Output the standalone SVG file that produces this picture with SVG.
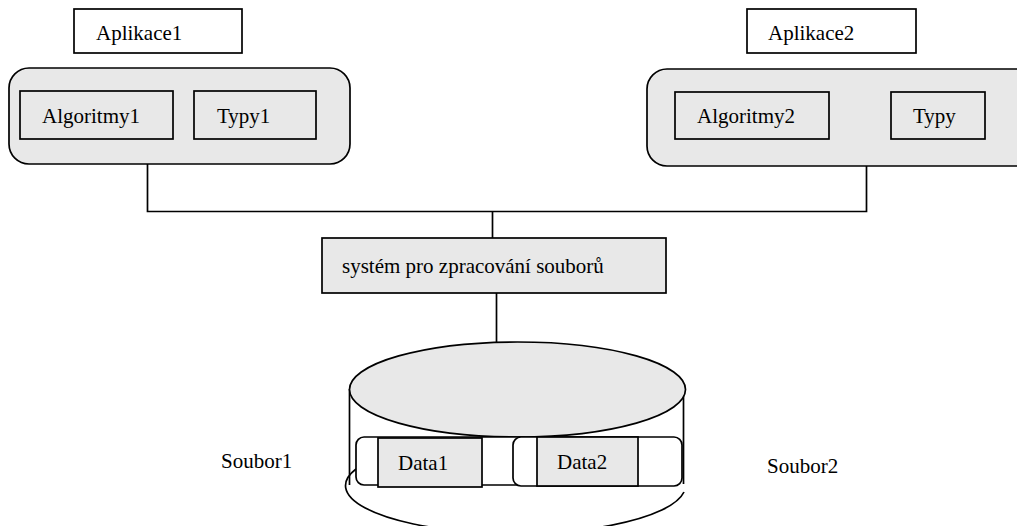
<svg xmlns="http://www.w3.org/2000/svg" width="1017" height="526" viewBox="0 0 1017 526">
<style>
  text { font-family: "Liberation Serif", "Times New Roman", serif; font-size: 21px; fill: #000; }
  .box { fill: #fff; stroke: #000; stroke-width: 1.7; }
  .grey { fill: #e8e8e8; stroke: #000; stroke-width: 1.7; }
  .line { fill: none; stroke: #000; stroke-width: 1.7; }
</style>
<rect width="1017" height="526" fill="#fff"/>
<g id="connectors">
  <path class="line" d="M147.5,164 V211.5 H866.5 V166"/>
  <path class="line" d="M492.5,211.5 V238"/>
  <path class="line" d="M496.5,293 V342"/>
</g>
<g id="aplikace1">
  <rect class="box" x="74" y="9" width="168" height="44"/>
  <text x="96" y="40">Aplikace1</text>
</g>
<g id="aplikace2">
  <rect class="box" x="747" y="9" width="169" height="44"/>
  <text x="768" y="40">Aplikace2</text>
</g>
<g id="group1">
  <rect class="grey" x="9" y="68" width="341" height="96" rx="20"/>
</g>
<g id="algoritmy1">
  <rect class="grey" x="20" y="91" width="153" height="48"/>
  <text x="42" y="123">Algoritmy1</text>
</g>
<g id="typy1">
  <rect class="grey" x="194" y="91" width="122" height="48"/>
  <text x="217" y="123">Typy1</text>
</g>
<g id="group2">
  <rect class="grey" x="647" y="69" width="390" height="97" rx="20"/>
</g>
<g id="algoritmy2">
  <rect class="grey" x="675" y="92" width="154" height="47"/>
  <text x="697" y="123">Algoritmy2</text>
</g>
<g id="typy">
  <rect class="grey" x="891" y="92" width="94" height="47"/>
  <text x="913" y="123">Typy</text>
</g>
<g id="system">
  <rect class="grey" x="322" y="238" width="344" height="55"/>
  <text x="342" y="273">systém pro zpracování souborů</text>
</g>
<g id="disk">
  <path class="line" d="M349.5,389 V485"/>
  <path class="line" d="M683.5,387 V484"/>
  <path class="line" d="M356,469 A170,48 0 1 0 684,492"/>
  <ellipse class="grey" cx="517.5" cy="389.5" rx="168" ry="47.5"/>
</g>
<g id="soubor1">
  <rect class="box" x="356" y="437" width="175" height="48" rx="8"/>
</g>
<g id="soubor2">
  <rect class="box" x="513" y="437" width="169" height="49" rx="8"/>
</g>
<g id="data1">
  <rect class="grey" x="378" y="438" width="104" height="49"/>
  <text x="398" y="470">Data1</text>
</g>
<g id="data2">
  <rect class="grey" x="537" y="437" width="101" height="49"/>
  <text x="557" y="469">Data2</text>
</g>
<g id="labels">
  <text x="221" y="468">Soubor1</text>
  <text x="767" y="473">Soubor2</text>
</g>
</svg>
